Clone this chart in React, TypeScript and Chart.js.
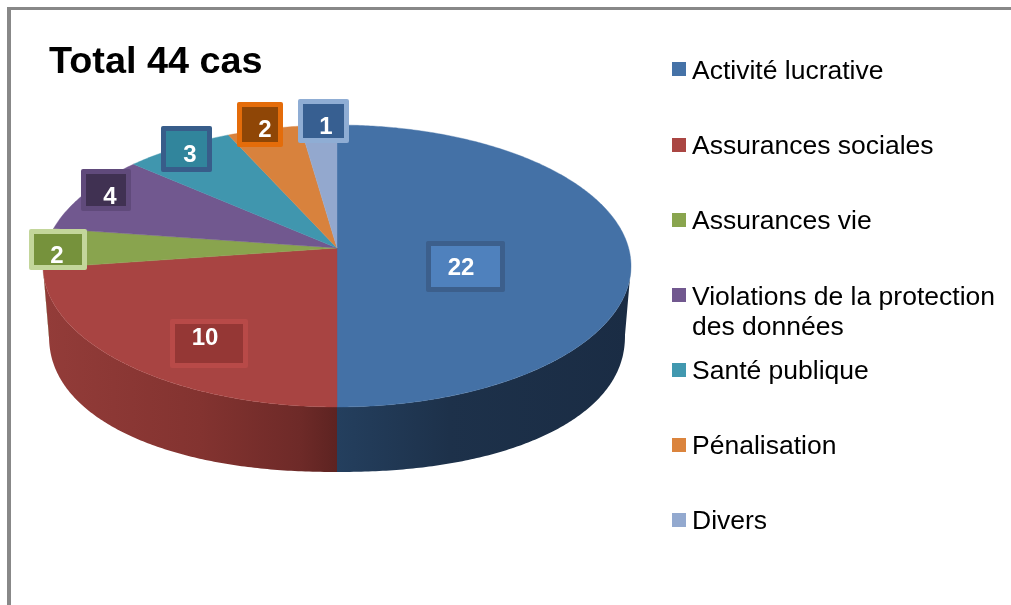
import React, { useEffect, useRef } from "react";
import { Chart, registerables } from "chart.js";

Chart.register(...registerables);

const categories: (string | string[])[] = [
  "Activité lucrative",
  "Assurances sociales",
  "Assurances vie",
  ["Violations de la protection", "des données"],
  "Santé publique",
  "Pénalisation",
  "Divers",
];
const caseCounts = [22, 10, 2, 4, 3, 2, 1];
const titleText = "Total 44 cas";

const topColors = ["#4471a6", "#a84442", "#89a44e", "#71588f", "#4096ae", "#d8823d", "#93a8ce"];
const swatchColors = ["#4572a7", "#aa4643", "#89a54e", "#71588f", "#4198af", "#db843d", "#93a9cf"];
const wallStops: [number, string][][] = [
  [[337, "#243f5e"], [450, "#1d314a"], [631, "#1a2c44"]],
  [[45, "#933c39"], [200, "#833330"], [300, "#6e2a28"], [337, "#5d2321"]],
  [[40, "#6d833e"], [60, "#6d833e"]],
  [[40, "#5a4672"], [60, "#5a4672"]],
  [[40, "#337889"], [60, "#337889"]],
  [[40, "#ad6830"], [60, "#ad6830"]],
  [[40, "#7586a4"], [60, "#7586a4"]],
];
const labelBoxes = [
  { x: 426, y: 241, w: 79, h: 51, fill: "#4f81bd", line: "#3c5f8c", tx: 461, ty: 275 },
  { x: 170, y: 319, w: 78, h: 49, fill: "#953735", line: "#b84a48", tx: 205, ty: 345 },
  { x: 29, y: 229, w: 58, h: 41, fill: "#76923c", line: "#c3d69b", tx: 57, ty: 263 },
  { x: 81, y: 169, w: 50, h: 42, fill: "#403152", line: "#604a7b", tx: 110, ty: 204 },
  { x: 161, y: 126, w: 51, h: 46, fill: "#31859c", line: "#385d8a", tx: 190, ty: 162 },
  { x: 237, y: 102, w: 46, h: 45, fill: "#8f4606", line: "#e46c0a", tx: 265, ty: 137 },
  { x: 298, y: 99, w: 51, h: 44, fill: "#375f91", line: "#8fadd4", tx: 326, ty: 134 },
];
const legendRows = [
  { box: 62, base: [79] },
  { box: 138, base: [154] },
  { box: 213, base: [229] },
  { box: 288, base: [305, 335] },
  { box: 363, base: [379] },
  { box: 438, base: [454] },
  { box: 513, base: [529] },
];

const CX = 337;
const CY = 248;
const R = 291.6;
const A = 138.7;
const K = 0.1277;

const spow = (t: number, p: number) => Math.sign(t) * Math.pow(Math.abs(t), p);

const project = (angle: number, lower = false): [number, number] => {
  const u = Math.cos(angle);
  const v = Math.sin(angle);
  const d = 1 - K * v;
  const px = (R * u) / d;
  const py = (A * v) / d;
  if (!lower) return [CX + px, CY + py];
  // lower rim: a slightly narrower, fuller outline below the top face
  const U = px / 294;
  const V = (py - 18) / 141;
  const h = Math.hypot(U, V) || 1;
  return [CX + 288 * spow(U / h, 0.92), 335 + 137 * spow(V / h, 0.92)];
};

const arcPoints = (a0: number, a1: number, lower = false) => {
  const n = Math.max(2, Math.ceil(Math.abs(a1 - a0) / 0.01));
  const pts: [number, number][] = [];
  for (let i = 0; i <= n; i++) pts.push(project(a0 + ((a1 - a0) * i) / n, lower));
  return pts;
};

const roundRect = (ctx: CanvasRenderingContext2D, x: number, y: number, w: number, h: number, r: number) => {
  ctx.beginPath();
  ctx.roundRect(x, y, w, h, r);
};

const pie3d = {
  id: "pie3d",
  beforeDatasetDraw(chart: any) {
    const ctx: CanvasRenderingContext2D = chart.ctx;
    const arcs = chart.getDatasetMeta(0).data as any[];
    const aR = Math.asin(K);
    const aL = Math.PI - aR;

    // side wall
    arcs.forEach((arc, i) => {
      const s = Math.max(arc.startAngle, aR);
      const e = Math.min(arc.endAngle, aL);
      if (e <= s) return;
      const up = arcPoints(s, e);
      const low = arcPoints(e, s, true);
      const stops = wallStops[i];
      const x0 = stops[0][0];
      const x1 = stops[stops.length - 1][0];
      const g = ctx.createLinearGradient(x0, 0, x1, 0);
      stops.forEach(([x, c]) => g.addColorStop((x - x0) / (x1 - x0), c));
      ctx.beginPath();
      [...up, ...low].forEach(([x, y], j) => (j ? ctx.lineTo(x, y) : ctx.moveTo(x, y)));
      ctx.closePath();
      ctx.fillStyle = g;
      ctx.fill();
    });

    // top face
    arcs.forEach((arc, i) => {
      ctx.beginPath();
      ctx.moveTo(CX, CY);
      arcPoints(arc.startAngle, arc.endAngle).forEach(([x, y]) => ctx.lineTo(x, y));
      ctx.closePath();
      ctx.fillStyle = topColors[i];
      ctx.strokeStyle = topColors[i];
      ctx.lineWidth = 0.4;
      ctx.fill();
      ctx.stroke();
    });

    // value labels
    ctx.font = "bold 24px 'Liberation Sans'";
    ctx.textAlign = "center";
    ctx.textBaseline = "alphabetic";
    caseCounts.forEach((val, i) => {
      const b = labelBoxes[i];
      roundRect(ctx, b.x, b.y, b.w, b.h, 2);
      ctx.fillStyle = b.line;
      ctx.fill();
      ctx.fillStyle = b.fill;
      ctx.fillRect(b.x + 5, b.y + 5, b.w - 10, b.h - 10);
      ctx.fillStyle = "#ffffff";
      ctx.fillText(String(val), b.tx, b.ty);
    });
    return false;
  },
  afterDraw(chart: any) {
    const ctx: CanvasRenderingContext2D = chart.ctx;
    ctx.save();
    ctx.font = "26.5px 'Liberation Sans'";
    ctx.textAlign = "left";
    ctx.textBaseline = "alphabetic";
    (chart.data.labels as (string | string[])[]).forEach((label, i) => {
      const row = legendRows[i];
      ctx.fillStyle = swatchColors[i];
      ctx.fillRect(672, row.box, 14, 14);
      ctx.fillStyle = "#000000";
      const lines = Array.isArray(label) ? label : [label];
      lines.forEach((t, j) => ctx.fillText(t, 692, row.base[j]));
    });
    ctx.restore();
  },
};

export default function App() {
  const ref = useRef<HTMLCanvasElement>(null);
  useEffect(() => {
    const chart = new Chart(ref.current as HTMLCanvasElement, {
      type: "pie",
      data: {
        labels: categories as any,
        datasets: [{ data: caseCounts, backgroundColor: topColors, borderWidth: 0 }],
      },
      options: {
        animation: false,
        responsive: false,
        layout: { padding: { left: 49, top: 44 } },
        plugins: {
          legend: { display: false },
          tooltip: { enabled: false },
          title: {
            display: true,
            text: titleText,
            align: "start",
            color: "#000000",
            padding: 0,
            font: { family: "'Liberation Sans'", size: 37.8, weight: "bold", lineHeight: 1 },
          },
        },
      },
      plugins: [pie3d as any],
    });
    return () => chart.destroy();
  }, []);
  return (
    <div style={{ position: "absolute", left: 0, top: 0, width: 1011, height: 605, overflow: "hidden", background: "#fff" }}>
      <div
        style={{
          position: "absolute",
          left: 7,
          top: 7,
          right: 0,
          bottom: 0,
          borderTop: "3px solid #888888",
          borderLeft: "4px solid #888888",
        }}
      />
      <canvas ref={ref} width={1011} height={605} style={{ position: "absolute", left: 0, top: 0, display: "block" }} />
    </div>
  );
}
